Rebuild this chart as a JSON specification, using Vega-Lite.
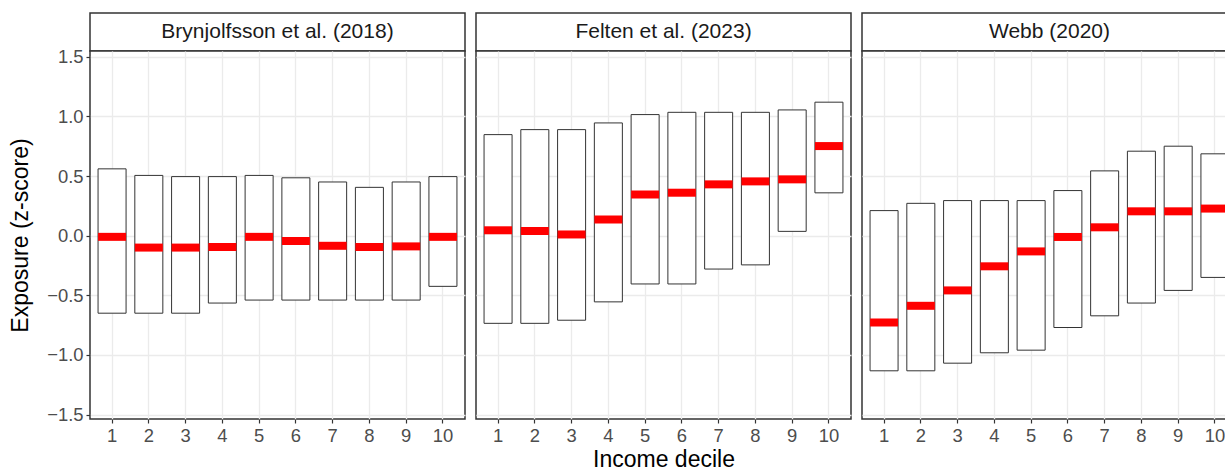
{
  "$schema": "https://vega.github.io/schema/vega-lite/v6.json",
  "padding": {"left": 8, "top": 12, "right": 0, "bottom": 0},
  "background": "white",
  "config": {
    "font": "Liberation Sans",
    "view": {"stroke": "#333333", "strokeWidth": 1.5},
    "axis": {
      "gridColor": "#ebebeb",
      "gridWidth": 1.3,
      "tickColor": "#333333",
      "tickWidth": 1.2,
      "tickSize": 4,
      "labelColor": "#4d4d4d",
      "labelFontSize": 18.4,
      "labelPadding": 3,
      "titleFontSize": 23,
      "titleFontWeight": "normal",
      "titleColor": "#000000",
      "domain": false
    }
  },
  "data": {
    "values": [
      {"source": "Brynjolfsson et al. (2018)", "decile": 1, "low": -0.65, "high": 0.56, "median": -0.01},
      {"source": "Brynjolfsson et al. (2018)", "decile": 2, "low": -0.65, "high": 0.505, "median": -0.10},
      {"source": "Brynjolfsson et al. (2018)", "decile": 3, "low": -0.65, "high": 0.495, "median": -0.10},
      {"source": "Brynjolfsson et al. (2018)", "decile": 4, "low": -0.565, "high": 0.495, "median": -0.095},
      {"source": "Brynjolfsson et al. (2018)", "decile": 5, "low": -0.54, "high": 0.505, "median": -0.01},
      {"source": "Brynjolfsson et al. (2018)", "decile": 6, "low": -0.54, "high": 0.485, "median": -0.045},
      {"source": "Brynjolfsson et al. (2018)", "decile": 7, "low": -0.54, "high": 0.45, "median": -0.085},
      {"source": "Brynjolfsson et al. (2018)", "decile": 8, "low": -0.54, "high": 0.405, "median": -0.095},
      {"source": "Brynjolfsson et al. (2018)", "decile": 9, "low": -0.54, "high": 0.45, "median": -0.09},
      {"source": "Brynjolfsson et al. (2018)", "decile": 10, "low": -0.425, "high": 0.495, "median": -0.01},
      {"source": "Felten et al. (2023)", "decile": 1, "low": -0.735, "high": 0.847, "median": 0.045},
      {"source": "Felten et al. (2023)", "decile": 2, "low": -0.735, "high": 0.889, "median": 0.04},
      {"source": "Felten et al. (2023)", "decile": 3, "low": -0.709, "high": 0.889, "median": 0.01},
      {"source": "Felten et al. (2023)", "decile": 4, "low": -0.555, "high": 0.945, "median": 0.135},
      {"source": "Felten et al. (2023)", "decile": 5, "low": -0.405, "high": 1.015, "median": 0.345},
      {"source": "Felten et al. (2023)", "decile": 6, "low": -0.405, "high": 1.034, "median": 0.36},
      {"source": "Felten et al. (2023)", "decile": 7, "low": -0.28, "high": 1.034, "median": 0.43},
      {"source": "Felten et al. (2023)", "decile": 8, "low": -0.245, "high": 1.034, "median": 0.455},
      {"source": "Felten et al. (2023)", "decile": 9, "low": 0.036, "high": 1.054, "median": 0.472},
      {"source": "Felten et al. (2023)", "decile": 10, "low": 0.359, "high": 1.119, "median": 0.751},
      {"source": "Webb (2020)", "decile": 1, "low": -1.133, "high": 0.21, "median": -0.728},
      {"source": "Webb (2020)", "decile": 2, "low": -1.133, "high": 0.271, "median": -0.588},
      {"source": "Webb (2020)", "decile": 3, "low": -1.069, "high": 0.294, "median": -0.459},
      {"source": "Webb (2020)", "decile": 4, "low": -0.982, "high": 0.294, "median": -0.257},
      {"source": "Webb (2020)", "decile": 5, "low": -0.96, "high": 0.294, "median": -0.132},
      {"source": "Webb (2020)", "decile": 6, "low": -0.77, "high": 0.378, "median": -0.011},
      {"source": "Webb (2020)", "decile": 7, "low": -0.672, "high": 0.543, "median": 0.07},
      {"source": "Webb (2020)", "decile": 8, "low": -0.565, "high": 0.708, "median": 0.204},
      {"source": "Webb (2020)", "decile": 9, "low": -0.459, "high": 0.75, "median": 0.204},
      {"source": "Webb (2020)", "decile": 10, "low": -0.35, "high": 0.686, "median": 0.227}
    ]
  },
  "spacing": 9,
  "hconcat": [
    {
      "spacing": 0,
      "bounds": "flush",
      "vconcat": [
        {
          "width": 375, "height": 38,
          "view": {"stroke": "#333333", "strokeWidth": 1.5, "fill": "white"},
          "transform": [{"filter": "datum.source === 'Brynjolfsson et al. (2018)' && datum.decile === 1"}],
          "mark": {"type": "text", "fontSize": 21, "color": "#1a1a1a"},
          "encoding": {"text": {"field": "source", "type": "nominal"}}
        },
        {
          "width": 375, "height": 368,
          "view": {"stroke": "#333333", "strokeWidth": 1.5, "fill": "white"},
          "transform": [{"filter": "datum.source === 'Brynjolfsson et al. (2018)'"}],
          "encoding": {
            "x": {"field": "decile", "type": "ordinal",
                  "scale": {"type": "band", "paddingInner": 0.238, "paddingOuter": 0.219},
                  "axis": {"title": null, "labelAngle": 0, "grid": true, "bandPosition": 0.5}}
          },
          "layer": [
            {
              "mark": {"type": "bar", "fill": "white", "stroke": "#333333", "strokeWidth": 1},
              "encoding": {
                "y": {"field": "low", "type": "quantitative",
                      "scale": {"domain": [-1.537, 1.548], "nice": false, "zero": false},
                      "axis": {"title": "Exposure (z-score)", "values": [-1.5, -1, -0.5, 0, 0.5, 1, 1.5], "format": ".1f", "grid": true, "titlePadding": 14}},
                "y2": {"field": "high"}
              }
            },
            {
              "mark": {"type": "tick", "color": "#ff0000", "thickness": 8, "size": 28, "opacity": 1},
              "encoding": {
                "y": {"field": "median", "type": "quantitative"}
              }
            }
          ]
        }
      ]
    },
    {
      "spacing": 0,
      "bounds": "flush",
      "vconcat": [
        {
          "width": 375, "height": 38,
          "view": {"stroke": "#333333", "strokeWidth": 1.5, "fill": "white"},
          "transform": [{"filter": "datum.source === 'Felten et al. (2023)' && datum.decile === 1"}],
          "mark": {"type": "text", "fontSize": 21, "color": "#1a1a1a"},
          "encoding": {"text": {"field": "source", "type": "nominal"}}
        },
        {
          "width": 375, "height": 368,
          "view": {"stroke": "#333333", "strokeWidth": 1.5, "fill": "white"},
          "transform": [{"filter": "datum.source === 'Felten et al. (2023)'"}],
          "encoding": {
            "x": {"field": "decile", "type": "ordinal",
                  "scale": {"type": "band", "paddingInner": 0.238, "paddingOuter": 0.219},
                  "axis": {"title": "Income decile", "titlePadding": 4, "labelAngle": 0, "grid": true, "bandPosition": 0.5}}
          },
          "layer": [
            {
              "mark": {"type": "bar", "fill": "white", "stroke": "#333333", "strokeWidth": 1},
              "encoding": {
                "y": {"field": "low", "type": "quantitative",
                      "scale": {"domain": [-1.537, 1.548], "nice": false, "zero": false},
                      "axis": {"title": null, "labels": false, "ticks": false, "values": [-1.5, -1, -0.5, 0, 0.5, 1, 1.5], "grid": true}},
                "y2": {"field": "high"}
              }
            },
            {
              "mark": {"type": "tick", "color": "#ff0000", "thickness": 8, "size": 28, "opacity": 1},
              "encoding": {
                "y": {"field": "median", "type": "quantitative"}
              }
            }
          ]
        }
      ]
    },
    {
      "spacing": 0,
      "bounds": "flush",
      "vconcat": [
        {
          "width": 375, "height": 38,
          "view": {"stroke": "#333333", "strokeWidth": 1.5, "fill": "white"},
          "transform": [{"filter": "datum.source === 'Webb (2020)' && datum.decile === 1"}],
          "mark": {"type": "text", "fontSize": 21, "color": "#1a1a1a"},
          "encoding": {"text": {"field": "source", "type": "nominal"}}
        },
        {
          "width": 375, "height": 368,
          "view": {"stroke": "#333333", "strokeWidth": 1.5, "fill": "white"},
          "transform": [{"filter": "datum.source === 'Webb (2020)'"}],
          "encoding": {
            "x": {"field": "decile", "type": "ordinal",
                  "scale": {"type": "band", "paddingInner": 0.238, "paddingOuter": 0.219},
                  "axis": {"title": null, "labelAngle": 0, "grid": true, "bandPosition": 0.5}}
          },
          "layer": [
            {
              "mark": {"type": "bar", "fill": "white", "stroke": "#333333", "strokeWidth": 1},
              "encoding": {
                "y": {"field": "low", "type": "quantitative",
                      "scale": {"domain": [-1.537, 1.548], "nice": false, "zero": false},
                      "axis": {"title": null, "labels": false, "ticks": false, "values": [-1.5, -1, -0.5, 0, 0.5, 1, 1.5], "grid": true}},
                "y2": {"field": "high"}
              }
            },
            {
              "mark": {"type": "tick", "color": "#ff0000", "thickness": 8, "size": 28, "opacity": 1},
              "encoding": {
                "y": {"field": "median", "type": "quantitative"}
              }
            }
          ]
        }
      ]
    }
  ]
}
